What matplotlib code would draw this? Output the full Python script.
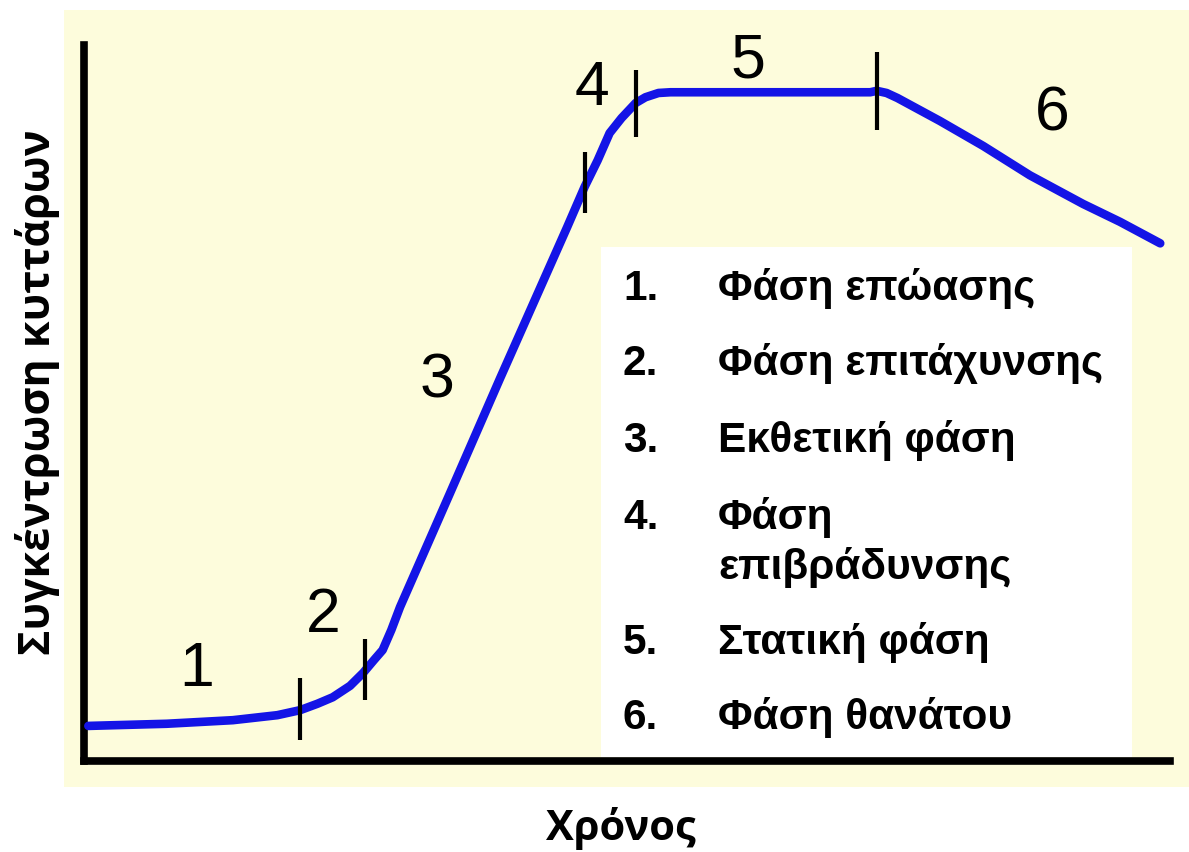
import matplotlib
matplotlib.use('Agg')
import matplotlib.pyplot as plt
from matplotlib.patches import Rectangle

# Καμπύλη ανάπτυξης (χρόνος, συγκέντρωση) σε αυθαίρετες μονάδες 0-100
xronos      = [0.4, 7.6, 13.7, 17.8, 19.9, 21.5, 22.9, 24.5, 25.7, 26.7, 27.5, 28.3,
               29.1, 33.7, 38.3, 44.5, 46.1, 47.3, 48.4, 49.5, 50.8, 51.7, 52.9, 54.0,
               72.4, 73.0, 73.9, 74.9, 78.8, 82.8, 87.1, 92.0, 95.4, 99.1]
sygkentrosi = [4.9, 5.2, 5.7, 6.4, 7.1, 8.0, 8.9, 10.5, 12.3, 14.1, 15.5, 18.3,
               21.5, 37.4, 53.4, 74.6, 80.2, 83.9, 87.7, 89.8, 91.9, 92.7, 93.3, 93.4,
               93.4, 93.6, 93.3, 92.6, 89.4, 85.9, 81.8, 77.8, 75.3, 72.3]

# Όρια φάσεων (κάθετες γραμμούλες)
oria_x  = [19.9, 25.9, 46.1, 50.8, 73.0]
oria_lo = [2.9, 8.5, 76.5, 87.2, 88.1]
oria_hi = [11.6, 17.0, 85.1, 96.5, 99.0]

# Αριθμοί φάσεων πάνω στο γράφημα
fasi_num = ['1', '2', '3', '4', '5', '6']
fasi_x   = [10.4, 22.0, 32.5, 46.8, 61.1, 89.2]
fasi_y   = [10.5, 18.0, 50.7, 91.6, 95.4, 88.1]

# Υπόμνημα
lejeis_num = ['1.', '2.', '3.', '4.', '', '5.', '6.']
lejeis     = ['Φάση επώασης', 'Φάση επιτάχυνσης', 'Εκθετική φάση', 'Φάση',
              'επιβράδυνσης', 'Στατική φάση', 'Φάση θανάτου']
lejeis_y   = [300, 375, 452, 529, 579, 654, 729]

W, H = 1189, 852
fig = plt.figure(figsize=(W / 100, H / 100), dpi=100)
fig.patch.set_facecolor('white')

# κίτρινο φόντο
fig.patches.append(Rectangle((64 / W, 1 - 787 / H), (W - 64) / W, (787 - 10) / H,
                             transform=fig.transFigure, facecolor='#fdfcdc',
                             edgecolor='none', zorder=-2))
# κουτί υπομνήματος
fig.patches.append(Rectangle((601 / W, 1 - 757 / H), (1132 - 601) / W, (757 - 247) / H,
                             transform=fig.transFigure, facecolor='white',
                             edgecolor='none', zorder=-1))

ax = fig.add_axes([84 / W, 1 - 761 / H, (1170 - 84) / W, (761 - 45) / H])
ax.set_facecolor('none')
ax.set_xlim(0, 100)
ax.set_ylim(0, 100)
for s in ['top', 'right']:
    ax.spines[s].set_visible(False)
for s in ['left', 'bottom']:
    ax.spines[s].set_linewidth(5.5)
    ax.spines[s].set_color('black')
ax.set_xticks([])
ax.set_yticks([])

ax.plot(xronos, sygkentrosi, color='#1414e6', lw=6.2, solid_joinstyle='round',
        solid_capstyle='round', zorder=3)
ax.vlines(oria_x, oria_lo, oria_hi, color='black', lw=3, zorder=4)

for n, x, y in zip(fasi_num, fasi_x, fasi_y):
    ax.text(x, y, n, fontsize=45, family='Liberation Sans', ha='center',
            va='baseline', color='black')

for num, txt, y in zip(lejeis_num, lejeis, lejeis_y):
    fig.text(623 / W, 1 - y / H, num, fontsize=30.5, family='Liberation Sans',
             fontweight='bold', va='baseline', ha='left')
    fig.text(718 / W, 1 - y / H, txt, fontsize=30.5, family='Liberation Sans',
             fontweight='bold', va='baseline', ha='left')

fig.text(621 / W, 1 - 828 / H, 'Χρόνος', fontsize=30, family='Open Sans',
         fontweight='bold', ha='center', va='center')
fig.text(38 / W, 1 - 392 / H, 'Συγκέντρωση κυττάρων', fontsize=31, family='Open Sans',
         fontweight='bold', ha='center', va='center', rotation=90)

fig.savefig('out.png', dpi=100)
